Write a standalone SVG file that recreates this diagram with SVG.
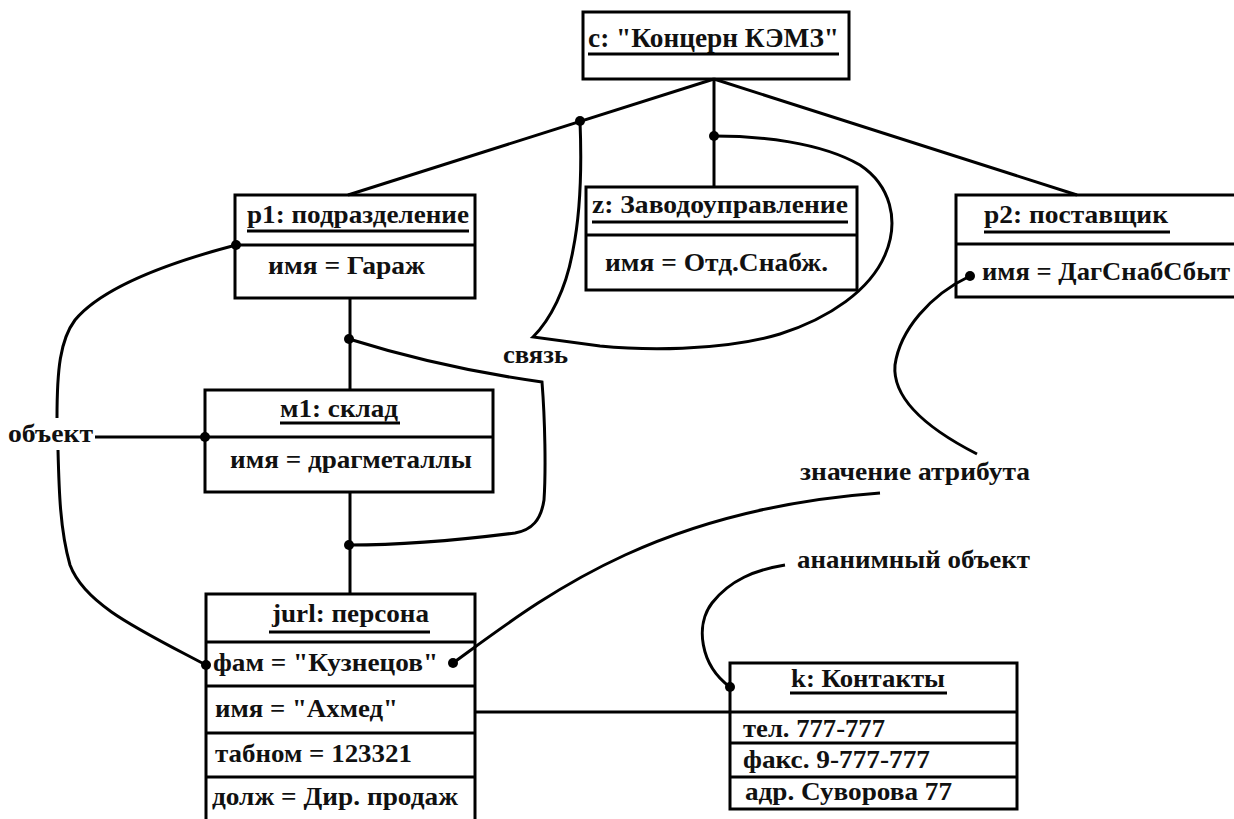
<svg xmlns="http://www.w3.org/2000/svg" width="1234" height="819" viewBox="0 0 1234 819">
<style>
text{font-family:"Liberation Serif","Times New Roman",serif;font-weight:bold;fill:#111;}
.t{font-size:25px;}
.big{font-size:27px;}
.box{fill:#fff;stroke:#000;stroke-width:3;}
.div{stroke:#000;stroke-width:3;}
.ul{stroke:#000;stroke-width:3;}
.c{fill:none;stroke:#000;stroke-width:3;}
.dot{fill:#000;}
</style>
<rect width="1234" height="819" fill="#fff"/>
<g id="labels">
<text class="t" x="8" y="442" textLength="85" lengthAdjust="spacingAndGlyphs">объект</text>
<text class="t" x="503" y="363" textLength="65" lengthAdjust="spacingAndGlyphs">связь</text>
<text class="t" x="800" y="480" textLength="230" lengthAdjust="spacingAndGlyphs">значение атрибута</text>
<text class="t" x="797" y="568" textLength="233" lengthAdjust="spacingAndGlyphs">ананимный объект</text>
</g>
<g id="node-c">
<rect class="box" x="583" y="12" width="266" height="67"/>
<text class="big" x="588" y="47" textLength="251" lengthAdjust="spacingAndGlyphs">c: "Концерн КЭМЗ"</text>
<line class="ul" x1="588" y1="54" x2="839" y2="54"/>
</g>
<g id="node-p1">
<rect class="box" x="235" y="195" width="240" height="103"/>
<line class="div" x1="235" y1="245" x2="475" y2="245"/>
<text class="t" x="247" y="223" textLength="222" lengthAdjust="spacingAndGlyphs">p1: подразделение</text>
<line class="ul" x1="247" y1="231" x2="469" y2="231"/>
<text class="t" x="268" y="274" textLength="157" lengthAdjust="spacingAndGlyphs">имя = Гараж</text>
</g>
<g id="node-z">
<rect class="box" x="586" y="187" width="271" height="103"/>
<line class="div" x1="586" y1="235" x2="857" y2="235"/>
<text class="t" x="592" y="213" textLength="256" lengthAdjust="spacingAndGlyphs">z: Заводоуправление</text>
<line class="ul" x1="592" y1="222" x2="848" y2="222"/>
<text class="t" x="605" y="271" textLength="223" lengthAdjust="spacingAndGlyphs">имя = Отд.Снабж.</text>
</g>
<g id="node-p2">
<rect class="box" x="956" y="195" width="290" height="102"/>
<line class="div" x1="956" y1="244" x2="1240" y2="244"/>
<text class="t" x="984" y="223" textLength="184" lengthAdjust="spacingAndGlyphs">p2: поставщик</text>
<line class="ul" x1="984" y1="232" x2="1170" y2="232"/>
<text class="t" x="982" y="280" textLength="248" lengthAdjust="spacingAndGlyphs">имя = ДагСнабСбыт</text>
</g>
<g id="node-m1">
<rect class="box" x="205" y="390" width="288" height="102"/>
<line class="div" x1="205" y1="437" x2="493" y2="437"/>
<text class="t" x="280" y="417" textLength="118" lengthAdjust="spacingAndGlyphs">м1: склад</text>
<line class="ul" x1="280" y1="423" x2="400" y2="423"/>
<text class="t" x="230" y="468" textLength="242" lengthAdjust="spacingAndGlyphs">имя = драгметаллы</text>
</g>
<g id="node-jurl">
<rect class="box" x="206" y="594" width="269" height="240"/>
<line class="div" x1="206" y1="642" x2="475" y2="642"/>
<line class="div" x1="206" y1="686" x2="475" y2="686"/>
<line class="div" x1="206" y1="733" x2="475" y2="733"/>
<line class="div" x1="206" y1="777" x2="475" y2="777"/>
<text class="t" x="272" y="622" textLength="157" lengthAdjust="spacingAndGlyphs">jurl: персона</text>
<line class="ul" x1="269" y1="632" x2="430" y2="632"/>
<text class="t" x="213" y="671" textLength="225" lengthAdjust="spacingAndGlyphs">фам = "Кузнецов"</text>
<text class="t" x="215" y="717" textLength="183" lengthAdjust="spacingAndGlyphs">имя = "Ахмед"</text>
<text class="t" x="215" y="762" textLength="197" lengthAdjust="spacingAndGlyphs">табном = 123321</text>
<text class="t" x="212" y="805" textLength="246" lengthAdjust="spacingAndGlyphs">долж = Дир. продаж</text>
</g>
<g id="node-k">
<rect class="box" x="730" y="663" width="287" height="146"/>
<line class="div" x1="730" y1="712" x2="1017" y2="712"/>
<line class="div" x1="730" y1="743" x2="1017" y2="743"/>
<line class="div" x1="730" y1="777" x2="1017" y2="777"/>
<text class="t" x="791" y="687" textLength="154" lengthAdjust="spacingAndGlyphs">k: Контакты</text>
<line class="ul" x1="790" y1="693" x2="947" y2="693"/>
<text class="t" x="743" y="737" textLength="142" lengthAdjust="spacingAndGlyphs">тел. 777-777</text>
<text class="t" x="743" y="768" textLength="187" lengthAdjust="spacingAndGlyphs">факс. 9-777-777</text>
<text class="t" x="745" y="800" textLength="207" lengthAdjust="spacingAndGlyphs">адр. Суворова 77</text>
</g>
<g id="connectors">
<path class="c" d="M714,79 L348,195"/>
<path class="c" d="M714,79 L714,187"/>
<path class="c" d="M714,79 L1077,195"/>
<path class="c" d="M350,298 L350,390"/>
<path class="c" d="M350,492 L350,594"/>
<path class="c" d="M475,712 L730,712"/>
<path class="c" d="M95,437 L205,437"/>
<path class="c" d="M580,121 C582,170 580,215 573,250 C566,290 550,320 533,337 L600,346 C640,350 720,352 780,334 C830,318 870,290 885,255 C900,220 890,185 860,165 C820,142 760,136 714,136"/>
<path class="c" d="M349,339 C400,355 470,372 542,382 C545,420 546,470 544,500 C541,520 532,530 515,533 C460,540 400,545 349,545"/>
<path class="c" d="M236,245 C160,265 100,290 75,320 C60,340 57,370 57,418 M58,450 C59,490 60,530 70,565 C85,605 140,630 206,665"/>
<path class="c" d="M970,276 C930,295 900,330 895,365 C892,400 930,430 977,454"/>
<path class="c" d="M453,663 C540,600 650,510 880,493"/>
<path class="c" d="M730,687 C700,665 695,625 712,603 C730,580 755,570 785,565"/>
<circle class="dot" cx="580" cy="121" r="5"/>
<circle class="dot" cx="714" cy="136" r="5"/>
<circle class="dot" cx="349" cy="339" r="5"/>
<circle class="dot" cx="349" cy="545" r="5"/>
<circle class="dot" cx="236" cy="245" r="5"/>
<circle class="dot" cx="205" cy="437" r="5"/>
<circle class="dot" cx="206" cy="665" r="5"/>
<circle class="dot" cx="453" cy="663" r="5"/>
<circle class="dot" cx="970" cy="276" r="5"/>
<circle class="dot" cx="730" cy="687" r="5"/>
</g>
</svg>
